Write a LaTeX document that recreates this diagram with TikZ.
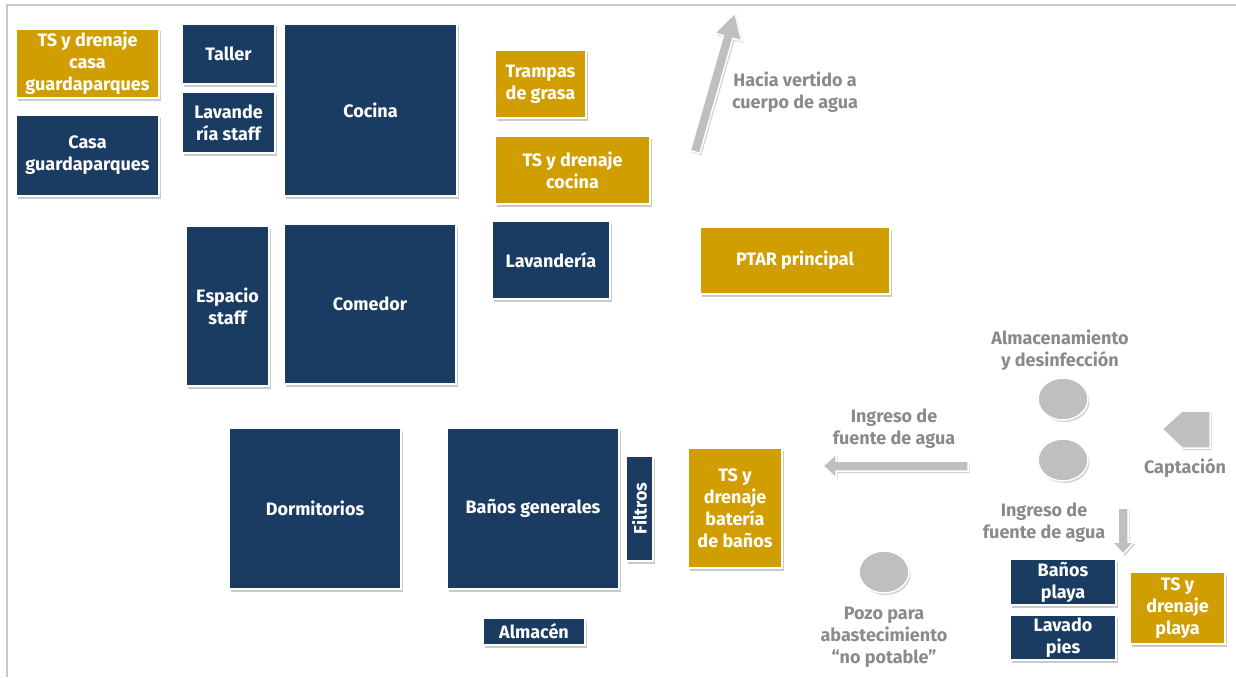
\documentclass[tikz,border=0pt]{standalone}
\usepackage{fontspec}
\setmainfont{Fira Sans}
\usetikzlibrary{shadows,shapes.geometric}
\definecolor{navy}{RGB}{26,60,99}
\definecolor{gold}{RGB}{208,158,0}
\definecolor{shapegray}{RGB}{191,191,191}
\definecolor{labelgray}{RGB}{138,138,138}
\definecolor{framegray}{RGB}{200,200,200}
\tikzset{
  room/.style={draw=white, line width=1.2pt, align=center, text=white, inner sep=1pt,
    font=\bfseries\fontsize{18}{22}\selectfont,
    drop shadow={shadow xshift=1.5pt, shadow yshift=-2.5pt, opacity=0.35, fill=black!60}},
  navybox/.style={room, fill=navy},
  goldbox/.style={room, fill=gold},
  graylabel/.style={align=center, text=labelgray, inner sep=0pt, font=\bfseries\fontsize{18}{22}\selectfont},
  grayshape/.style={fill=shapegray, draw=white, line width=1.5pt,
    drop shadow={shadow xshift=1.5pt, shadow yshift=-2pt, opacity=0.3, fill=black!60}},
  tank/.style={ellipse, grayshape, minimum width=50pt, minimum height=42pt, inner sep=0pt}
}
\begin{document}
\begin{tikzpicture}[x=1pt,y=-1pt]
\useasboundingbox (0,0) rectangle (1236,677);
% frame
\draw[framegray, line width=2pt] (7,677) -- (7,5) -- (1236,5);

% rooms (navy) and treatment (gold)
\node[goldbox, minimum width=143pt, minimum height=69pt] (tsg) at (87.5,63.5) {TS y drenaje\\casa\\guardaparques};
\node[navybox, minimum width=143pt, minimum height=81pt] (casa) at (87.5,155.5) {Casa\\guardaparques};
\node[navybox, minimum width=93pt, minimum height=60pt] (taller) at (228.5,54) {Taller};
\node[navybox, minimum width=93pt, minimum height=61pt] (lavst) at (228.5,122.5) {Lavande\\ría staff};
\node[navybox, minimum width=173pt, minimum height=172pt] (cocina) at (370.5,110) {Cocina};
\node[goldbox, minimum width=91pt, minimum height=68pt] (trampas) at (540.5,84) {Trampas\\de grasa};
\node[goldbox, minimum width=155pt, minimum height=68pt] (tscoc) at (572.5,170) {TS y drenaje\\cocina};
\node[navybox, minimum width=118pt, minimum height=78pt] (lav) at (551,260) {Lavandería};
\node[goldbox, minimum width=190pt, minimum height=67pt] (ptar) at (795,260.5) {PTAR principal};
\node[navybox, minimum width=83pt, minimum height=160pt] (esp) at (227.5,306) {Espacio\\staff};
\node[navybox, minimum width=172pt, minimum height=160pt] (comedor) at (370,304) {Comedor};
\node[navybox, minimum width=172pt, minimum height=161pt] (dorm) at (315,508.5) {Dormitorios};
\node[navybox, minimum width=172pt, minimum height=161pt] (banos) at (533,508.5) {Baños generales};
\node[navybox, minimum width=27pt, minimum height=105pt] (filtros) at (639.5,508.5) {};
\node[text=white, font=\bfseries\fontsize{18}{22}\selectfont, rotate=90, inner sep=0pt] (filtrostxt) at (filtros.center) {Filtros};
\node[goldbox, minimum width=94pt, minimum height=120pt] (tsbat) at (735,508) {TS y\\drenaje\\batería\\de baños};
\node[navybox, minimum width=102pt, minimum height=27pt] (almacen) at (534,631.5) {Almacén};
\node[navybox, minimum width=106pt, minimum height=46pt] (bplaya) at (1063,582) {Baños\\playa};
\node[navybox, minimum width=106pt, minimum height=45pt] (lpies) at (1063,637.5) {Lavado\\pies};
\node[goldbox, minimum width=95pt, minimum height=72pt] (tsplaya) at (1177.5,608) {TS y\\drenaje\\playa};

% water supply elements
\node[tank] (tank1) at (1063,399) {};
\node[tank] (tank2) at (1063,460) {};
\node[tank] (pozo) at (884,572) {};
\coordinate (cap1) at (1162,429);
\coordinate (cap2) at (1182,411);
\coordinate (cap3) at (1210,411);
\coordinate (cap4) at (1210,448);
\coordinate (cap5) at (1182,448);
\path[grayshape] (cap1) -- (cap2) -- (cap3) -- (cap4) -- (cap5) -- cycle;

% block arrows
\path[grayshape] (968,461) -- (836,461) -- (836,454) -- (823,466) -- (836,478) -- (836,471) -- (968,471) -- cycle;
\path[grayshape] (1118,508) -- (1118,542) -- (1112,542) -- (1123,554) -- (1134,542) -- (1128,542) -- (1128,508) -- cycle;
\path[grayshape] (690.2,150.6) -- (723.3,35.6) -- (714.6,33.1) -- (735,13) -- (741.6,40.9) -- (732.9,38.4) -- (699.8,153.4) -- cycle;

% labels
\node[graylabel] (lblvert) at (795,92.5) {Hacia vertido a\\cuerpo de agua};
\node[graylabel] (lblalm) at (1060,350) {Almacenamiento\\y desinfección};
\node[graylabel] (lblin1) at (894,429) {Ingreso de\\fuente de agua};
\node[graylabel] (lblcap) at (1185,468) {Captación};
\node[graylabel] (lblin2) at (1044,522.5) {Ingreso de\\fuente de agua};
\node[graylabel] (lblpozo) at (884,637.5) {Pozo para\\abastecimiento\\“no potable”};
\end{tikzpicture}
\end{document}
